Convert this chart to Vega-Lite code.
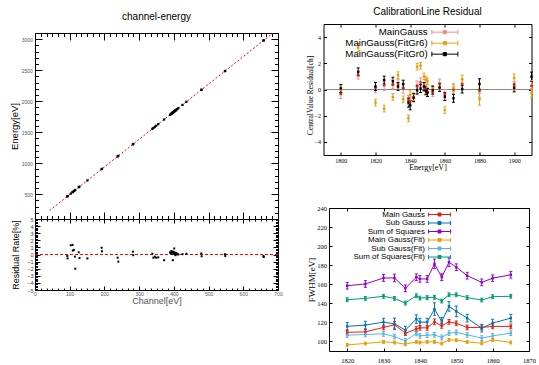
{
"$schema": "https://vega.github.io/schema/vega-lite/v6.json",
"padding": {"left": 8, "top": 6, "right": 0, "bottom": 0},
"datasets": {
"fit": [{"ch": 42, "e": 237}, {"ch": 700, "e": 3165}],
"pts": [
{"ch":93,"e":465,"r":-0.2},{"ch":94,"e":470,"r":-0.55},{"ch":103,"e":510,"r":1.3},{"ch":108,"e":532,"r":1.35},{"ch":109,"e":537,"r":0.55},{"ch":112,"e":550,"r":0.65},{"ch":115,"e":563,"r":-0.3},{"ch":116,"e":568,"r":-2.0},{"ch":126,"e":612,"r":0.3},{"ch":128,"e":621,"r":-0.5},{"ch":151,"e":722,"r":-0.55},{"ch":192,"e":904,"r":0.95},{"ch":193,"e":909,"r":0.45},{"ch":238,"e":1109,"r":-0.45},{"ch":240,"e":1118,"r":-1.0},{"ch":282,"e":1305,"r":0.4},{"ch":283,"e":1309,"r":-0.1},{"ch":338,"e":1554,"r":0.1},{"ch":341,"e":1567,"r":-0.45},{"ch":345,"e":1585,"r":-0.3},{"ch":349,"e":1603,"r":-0.45},{"ch":355,"e":1630,"r":-0.4},{"ch":372,"e":1705,"r":-0.8},{"ch":389,"e":1781,"r":0.3},{"ch":391,"e":1790,"r":0.2},{"ch":393,"e":1799,"r":0.5},{"ch":394,"e":1803,"r":0.1},{"ch":395,"e":1808,"r":0.35},{"ch":396,"e":1812,"r":0.2},{"ch":397,"e":1817,"r":-0.8},{"ch":398,"e":1821,"r":0.4},{"ch":399,"e":1826,"r":0.1},{"ch":400,"e":1830,"r":0.25},{"ch":401,"e":1835,"r":0.85},{"ch":402,"e":1839,"r":0.3},{"ch":403,"e":1844,"r":0.0},{"ch":404,"e":1848,"r":0.15},{"ch":405,"e":1853,"r":-0.1},{"ch":406,"e":1857,"r":0.2},{"ch":408,"e":1866,"r":0.05},{"ch":410,"e":1875,"r":0.1},{"ch":413,"e":1888,"r":0.0},{"ch":425,"e":1941,"r":0.05},{"ch":436,"e":1990,"r":0.1},{"ch":479,"e":2182,"r":0.15},{"ch":480,"e":2186,"r":-0.25},{"ch":547,"e":2484,"r":0.05},{"ch":548,"e":2489,"r":-0.2},{"ch":658,"e":2978,"r":-0.2},{"ch":659,"e":2983,"r":-0.35}
],
"res": [
{"s":"MainGauss","x":1800,"v":-0.34,"lo":-0.69,"hi":0.01},{"s":"MainGauss(FitGr6)","x":1800,"v":-0.03,"lo":-0.33,"hi":0.27},{"s":"MainGauss(FitGr0)","x":1800,"v":0.08,"lo":-0.22,"hi":0.38},
{"s":"MainGauss","x":1810,"v":1.1,"lo":0.8,"hi":1.4},{"s":"MainGauss(FitGr6)","x":1810,"v":3.2,"lo":2.9,"hi":3.5},{"s":"MainGauss(FitGr0)","x":1810,"v":1.35,"lo":1.05,"hi":1.65},
{"s":"MainGauss","x":1820,"v":0.15,"lo":-0.25,"hi":0.55},{"s":"MainGauss(FitGr6)","x":1820,"v":-1.0,"lo":-1.25,"hi":-0.75},{"s":"MainGauss(FitGr0)","x":1820,"v":0.23,"lo":-0.07,"hi":0.53},
{"s":"MainGauss","x":1825,"v":0.33,"lo":-0.07,"hi":0.73},{"s":"MainGauss(FitGr6)","x":1825,"v":-1.46,"lo":-1.71,"hi":-1.21},{"s":"MainGauss(FitGr0)","x":1825,"v":0.72,"lo":0.42,"hi":1.02},
{"s":"MainGauss","x":1830,"v":0.41,"lo":0.06,"hi":0.76},{"s":"MainGauss(FitGr6)","x":1830,"v":-0.57,"lo":-0.82,"hi":-0.32},{"s":"MainGauss(FitGr0)","x":1830,"v":0.64,"lo":0.34,"hi":0.94},
{"s":"MainGauss","x":1833,"v":0.4,"lo":0.05,"hi":0.75},{"s":"MainGauss(FitGr6)","x":1833,"v":1.1,"lo":0.85,"hi":1.35},{"s":"MainGauss(FitGr0)","x":1833,"v":0.23,"lo":-0.07,"hi":0.53},
{"s":"MainGauss","x":1836,"v":0.07,"lo":-0.28,"hi":0.42},{"s":"MainGauss(FitGr6)","x":1836,"v":-0.75,"lo":-1.0,"hi":-0.5},{"s":"MainGauss(FitGr0)","x":1836,"v":0.41,"lo":0.11,"hi":0.71},
{"s":"MainGauss","x":1839,"v":-0.8,"lo":-1.15,"hi":-0.45},{"s":"MainGauss(FitGr6)","x":1839,"v":-2.2,"lo":-2.45,"hi":-1.95},{"s":"MainGauss(FitGr0)","x":1839,"v":-1.0,"lo":-1.35,"hi":-0.65},
{"s":"MainGauss","x":1840,"v":-0.9,"lo":-1.25,"hi":-0.55},{"s":"MainGauss(FitGr6)","x":1840,"v":-0.4,"lo":-0.7,"hi":-0.1},{"s":"MainGauss(FitGr0)","x":1840,"v":-1.2,"lo":-1.55,"hi":-0.85},
{"s":"MainGauss","x":1842,"v":-0.6,"lo":-0.95,"hi":-0.25},{"s":"MainGauss(FitGr6)","x":1842,"v":-0.6,"lo":-0.85,"hi":-0.35},{"s":"MainGauss(FitGr0)","x":1842,"v":-0.62,"lo":-0.92,"hi":-0.32},
{"s":"MainGauss","x":1844,"v":0.3,"lo":-0.05,"hi":0.65},{"s":"MainGauss(FitGr6)","x":1844,"v":1.74,"lo":1.49,"hi":1.99},{"s":"MainGauss(FitGr0)","x":1844,"v":-0.05,"lo":-0.35,"hi":0.25},
{"s":"MainGauss","x":1846,"v":0.54,"lo":0.19,"hi":0.89},{"s":"MainGauss(FitGr6)","x":1846,"v":1.82,"lo":1.57,"hi":2.07},{"s":"MainGauss(FitGr0)","x":1846,"v":0.07,"lo":-0.23,"hi":0.37},
{"s":"MainGauss","x":1848,"v":0.2,"lo":-0.15,"hi":0.55},{"s":"MainGauss(FitGr6)","x":1848,"v":1.0,"lo":0.75,"hi":1.25},{"s":"MainGauss(FitGr0)","x":1848,"v":0.23,"lo":-0.07,"hi":0.53},
{"s":"MainGauss","x":1849,"v":0.0,"lo":-0.35,"hi":0.35},{"s":"MainGauss(FitGr6)","x":1849,"v":0.75,"lo":0.5,"hi":1.0},{"s":"MainGauss(FitGr0)","x":1849,"v":-0.1,"lo":-0.4,"hi":0.2},
{"s":"MainGauss","x":1850,"v":-0.2,"lo":-0.55,"hi":0.15},{"s":"MainGauss(FitGr6)","x":1850,"v":0.62,"lo":0.37,"hi":0.87},{"s":"MainGauss(FitGr0)","x":1850,"v":-0.23,"lo":-0.53,"hi":0.07},
{"s":"MainGauss","x":1853,"v":-0.2,"lo":-0.55,"hi":0.15},{"s":"MainGauss(FitGr6)","x":1853,"v":0.05,"lo":-0.2,"hi":0.3},{"s":"MainGauss(FitGr0)","x":1853,"v":-0.05,"lo":-0.35,"hi":0.25},
{"s":"MainGauss","x":1857,"v":0.45,"lo":0.1,"hi":0.8},{"s":"MainGauss(FitGr6)","x":1857,"v":0.2,"lo":-0.05,"hi":0.45},{"s":"MainGauss(FitGr0)","x":1857,"v":0.15,"lo":-0.15,"hi":0.45},
{"s":"MainGauss","x":1860,"v":-0.35,"lo":-0.7,"hi":0.0},{"s":"MainGauss(FitGr6)","x":1860,"v":-1.57,"lo":-1.82,"hi":-1.32},{"s":"MainGauss(FitGr0)","x":1860,"v":-0.54,"lo":-0.84,"hi":-0.24},
{"s":"MainGauss","x":1865,"v":0.0,"lo":-0.35,"hi":0.35},{"s":"MainGauss(FitGr6)","x":1865,"v":0.15,"lo":-0.15,"hi":0.45},{"s":"MainGauss(FitGr0)","x":1865,"v":-0.67,"lo":-0.97,"hi":-0.37},
{"s":"MainGauss","x":1870,"v":0.4,"lo":0.05,"hi":0.75},{"s":"MainGauss(FitGr6)","x":1870,"v":0.8,"lo":0.5,"hi":1.1},{"s":"MainGauss(FitGr0)","x":1870,"v":0.03,"lo":-0.27,"hi":0.33},
{"s":"MainGauss","x":1880,"v":-0.1,"lo":-0.6,"hi":0.4},{"s":"MainGauss(FitGr6)","x":1880,"v":-0.75,"lo":-1.2,"hi":-0.3},{"s":"MainGauss(FitGr0)","x":1880,"v":0.42,"lo":0.02,"hi":0.82},
{"s":"MainGauss","x":1900,"v":0.28,"lo":-0.02,"hi":0.58},{"s":"MainGauss(FitGr6)","x":1900,"v":0.88,"lo":0.58,"hi":1.18},{"s":"MainGauss(FitGr0)","x":1900,"v":0.12,"lo":-0.18,"hi":0.42},
{"s":"MainGauss","x":1910,"v":0.28,"lo":-0.12,"hi":0.68},{"s":"MainGauss(FitGr6)","x":1910,"v":-0.28,"lo":-0.63,"hi":0.07},{"s":"MainGauss(FitGr0)","x":1910,"v":0.98,"lo":0.63,"hi":1.33}
],
"fw": [
{"s":"Main Gauss","x":1820,"v":109.5,"lo":107,"hi":112},{"s":"Main Gauss","x":1825,"v":110.1,"lo":107.6,"hi":112.6},{"s":"Main Gauss","x":1830,"v":114.7,"lo":112.2,"hi":117.2},{"s":"Main Gauss","x":1833,"v":117.5,"lo":114,"hi":121},{"s":"Main Gauss","x":1836,"v":108.7,"lo":106.2,"hi":111.2},{"s":"Main Gauss","x":1839,"v":113,"lo":110.5,"hi":115.5},{"s":"Main Gauss","x":1840,"v":114.3,"lo":111.8,"hi":116.8},{"s":"Main Gauss","x":1842,"v":114.3,"lo":111.8,"hi":116.8},{"s":"Main Gauss","x":1844,"v":120.6,"lo":117.6,"hi":123.6},{"s":"Main Gauss","x":1846,"v":116.4,"lo":113.9,"hi":118.9},{"s":"Main Gauss","x":1848,"v":120.6,"lo":118.1,"hi":123.1},{"s":"Main Gauss","x":1850,"v":119,"lo":116.5,"hi":121.5},{"s":"Main Gauss","x":1853,"v":114.7,"lo":112.2,"hi":117.2},{"s":"Main Gauss","x":1857,"v":114.7,"lo":112.2,"hi":117.2},{"s":"Main Gauss","x":1860,"v":115.8,"lo":113.3,"hi":118.3},{"s":"Main Gauss","x":1865,"v":115.8,"lo":113.3,"hi":118.3},
{"s":"Sub Gauss","x":1820,"v":115.8,"lo":111.8,"hi":119.8},{"s":"Sub Gauss","x":1825,"v":117.2,"lo":113.2,"hi":121.2},{"s":"Sub Gauss","x":1830,"v":120.3,"lo":116.3,"hi":124.3},{"s":"Sub Gauss","x":1833,"v":118.5,"lo":112.5,"hi":124.5},{"s":"Sub Gauss","x":1836,"v":111.9,"lo":107.9,"hi":115.9},{"s":"Sub Gauss","x":1839,"v":123.5,"lo":119,"hi":128},{"s":"Sub Gauss","x":1840,"v":120.3,"lo":116.3,"hi":124.3},{"s":"Sub Gauss","x":1842,"v":120.3,"lo":116.3,"hi":124.3},{"s":"Sub Gauss","x":1844,"v":134,"lo":127.5,"hi":140.5},{"s":"Sub Gauss","x":1846,"v":121,"lo":117,"hi":125},{"s":"Sub Gauss","x":1848,"v":136.8,"lo":131.8,"hi":141.8},{"s":"Sub Gauss","x":1850,"v":131.6,"lo":126.1,"hi":137.1},{"s":"Sub Gauss","x":1853,"v":124.5,"lo":120.5,"hi":128.5},{"s":"Sub Gauss","x":1857,"v":114,"lo":110,"hi":118},{"s":"Sub Gauss","x":1860,"v":119.3,"lo":115.3,"hi":123.3},{"s":"Sub Gauss","x":1865,"v":124.5,"lo":120.5,"hi":128.5},
{"s":"Sum of Squares","x":1820,"v":158.5,"lo":155,"hi":162},{"s":"Sum of Squares","x":1825,"v":160.3,"lo":156.8,"hi":163.8},{"s":"Sum of Squares","x":1830,"v":166.6,"lo":163.1,"hi":170.1},{"s":"Sum of Squares","x":1833,"v":166.6,"lo":162.6,"hi":170.6},{"s":"Sum of Squares","x":1836,"v":155.8,"lo":152.3,"hi":159.3},{"s":"Sum of Squares","x":1839,"v":167.4,"lo":163.9,"hi":170.9},{"s":"Sum of Squares","x":1840,"v":165.6,"lo":162.1,"hi":169.1},{"s":"Sum of Squares","x":1842,"v":165.6,"lo":162.1,"hi":169.1},{"s":"Sum of Squares","x":1844,"v":181.4,"lo":176.4,"hi":186.4},{"s":"Sum of Squares","x":1846,"v":167.5,"lo":164,"hi":171},{"s":"Sum of Squares","x":1848,"v":183.2,"lo":178.7,"hi":187.7},{"s":"Sum of Squares","x":1850,"v":177.9,"lo":174.4,"hi":181.4},{"s":"Sum of Squares","x":1853,"v":169,"lo":165.5,"hi":172.5},{"s":"Sum of Squares","x":1857,"v":162,"lo":158.5,"hi":165.5},{"s":"Sum of Squares","x":1860,"v":166.3,"lo":162.8,"hi":169.8},{"s":"Sum of Squares","x":1865,"v":170,"lo":166.5,"hi":173.5},
{"s":"Main Gauss(Fit)","x":1820,"v":96.4,"lo":94.9,"hi":97.9},{"s":"Main Gauss(Fit)","x":1825,"v":97.9,"lo":96.4,"hi":99.4},{"s":"Main Gauss(Fit)","x":1830,"v":99.6,"lo":98.1,"hi":101.1},{"s":"Main Gauss(Fit)","x":1833,"v":98.9,"lo":97.4,"hi":100.4},{"s":"Main Gauss(Fit)","x":1836,"v":97.1,"lo":95.6,"hi":98.6},{"s":"Main Gauss(Fit)","x":1839,"v":99.6,"lo":98.1,"hi":101.1},{"s":"Main Gauss(Fit)","x":1840,"v":98.9,"lo":97.4,"hi":100.4},{"s":"Main Gauss(Fit)","x":1842,"v":99.6,"lo":98.1,"hi":101.1},{"s":"Main Gauss(Fit)","x":1844,"v":99.6,"lo":98.1,"hi":101.1},{"s":"Main Gauss(Fit)","x":1846,"v":97.9,"lo":96.4,"hi":99.4},{"s":"Main Gauss(Fit)","x":1848,"v":101.7,"lo":100.2,"hi":103.2},{"s":"Main Gauss(Fit)","x":1850,"v":101.3,"lo":99.8,"hi":102.8},{"s":"Main Gauss(Fit)","x":1853,"v":99.6,"lo":98.1,"hi":101.1},{"s":"Main Gauss(Fit)","x":1857,"v":98.2,"lo":96.7,"hi":99.7},{"s":"Main Gauss(Fit)","x":1860,"v":101.7,"lo":100.2,"hi":103.2},{"s":"Main Gauss(Fit)","x":1865,"v":98.9,"lo":97.4,"hi":100.4},
{"s":"Sub Gauss(Fit)","x":1820,"v":106.6,"lo":104.1,"hi":109.1},{"s":"Sub Gauss(Fit)","x":1825,"v":107.3,"lo":104.8,"hi":109.8},{"s":"Sub Gauss(Fit)","x":1830,"v":108,"lo":105.5,"hi":110.5},{"s":"Sub Gauss(Fit)","x":1833,"v":105.2,"lo":102.7,"hi":107.7},{"s":"Sub Gauss(Fit)","x":1836,"v":100.6,"lo":98.1,"hi":103.1},{"s":"Sub Gauss(Fit)","x":1839,"v":108.5,"lo":106,"hi":111},{"s":"Sub Gauss(Fit)","x":1840,"v":105.9,"lo":103.4,"hi":108.4},{"s":"Sub Gauss(Fit)","x":1842,"v":106.6,"lo":104.1,"hi":109.1},{"s":"Sub Gauss(Fit)","x":1844,"v":107,"lo":104.5,"hi":109.5},{"s":"Sub Gauss(Fit)","x":1846,"v":104.2,"lo":101.7,"hi":106.7},{"s":"Sub Gauss(Fit)","x":1848,"v":108.7,"lo":106.2,"hi":111.2},{"s":"Sub Gauss(Fit)","x":1850,"v":109.5,"lo":107,"hi":112},{"s":"Sub Gauss(Fit)","x":1853,"v":107,"lo":104.5,"hi":109.5},{"s":"Sub Gauss(Fit)","x":1857,"v":103.5,"lo":101,"hi":106},{"s":"Sub Gauss(Fit)","x":1860,"v":105.9,"lo":103.4,"hi":108.4},{"s":"Sub Gauss(Fit)","x":1865,"v":108.7,"lo":106.2,"hi":111.2},
{"s":"Sum of Squares(Fit)","x":1820,"v":143.8,"lo":141.8,"hi":145.8},{"s":"Sum of Squares(Fit)","x":1825,"v":145.2,"lo":143.2,"hi":147.2},{"s":"Sum of Squares(Fit)","x":1830,"v":147.4,"lo":145.4,"hi":149.4},{"s":"Sum of Squares(Fit)","x":1833,"v":145.2,"lo":143.2,"hi":147.2},{"s":"Sum of Squares(Fit)","x":1836,"v":140.3,"lo":138.3,"hi":142.3},{"s":"Sum of Squares(Fit)","x":1839,"v":148,"lo":146,"hi":150},{"s":"Sum of Squares(Fit)","x":1840,"v":145.5,"lo":143.5,"hi":147.5},{"s":"Sum of Squares(Fit)","x":1842,"v":146,"lo":144,"hi":148},{"s":"Sum of Squares(Fit)","x":1844,"v":146.3,"lo":144.3,"hi":148.3},{"s":"Sum of Squares(Fit)","x":1846,"v":142.4,"lo":140.4,"hi":144.4},{"s":"Sum of Squares(Fit)","x":1848,"v":149,"lo":147,"hi":151},{"s":"Sum of Squares(Fit)","x":1850,"v":149,"lo":147,"hi":151},{"s":"Sum of Squares(Fit)","x":1853,"v":146,"lo":144,"hi":148},{"s":"Sum of Squares(Fit)","x":1857,"v":143.5,"lo":141.5,"hi":145.5},{"s":"Sum of Squares(Fit)","x":1860,"v":147,"lo":145,"hi":149},{"s":"Sum of Squares(Fit)","x":1865,"v":147.4,"lo":145.4,"hi":149.4}
]
},
"spacing": 22.5,
"resolve": {"scale": {"color": "independent", "fill": "independent"}, "legend": {"color": "independent", "fill": "independent"}},
"hconcat": [
{
"bounds": "flush",
"spacing": 0,
"vconcat": [
{"width": 243, "height": 9, "data": {"values": []}, "mark": "point", "view": {"stroke": null}},
{
"width": 243, "height": 186,
"title": {"text": "channel-energy", "offset": 9},
"layer": [
{"data": {"name": "fit"},
 "mark": {"type": "line", "color": "#ff0000", "strokeDash": [2, 2], "strokeWidth": 1, "clip": true},
 "encoding": {
  "x": {"field": "ch", "type": "quantitative", "scale": {"domain": [0, 700], "nice": false, "zero": false},
        "axis": {"orient": "bottom", "values": [0,16.667,33.333,50,66.667,83.333,100,116.667,133.333,150,166.667,183.333,200,216.667,233.333,250,266.667,283.333,300,316.667,333.333,350,366.667,383.333,400,416.667,433.333,450,466.667,483.333,500,516.667,533.333,550,566.667,583.333,600,616.667,633.333,650,666.667,683.333,700], "labels": false, "title": null,
                 "tickSize": {"condition": {"test": "datum.value % 100 === 0", "value": -7}, "value": -3.5}}},
  "y": {"field": "e", "type": "quantitative", "scale": {"domain": [100, 3100], "nice": false, "zero": false},
        "axis": {"orient": "left", "values": [100,200,300,400,500,600,700,800,900,1000,1100,1200,1300,1400,1500,1600,1700,1800,1900,2000,2100,2200,2300,2400,2500,2600,2700,2800,2900,3000,3100], "format": "d",
                 "labelExpr": "datum.value % 500 === 0 ? datum.label : ''", "labelFontSize": 5, "labelColor": "#505060", "labelPadding": 9.6,
                 "tickSize": {"condition": {"test": "datum.value % 500 === 0", "value": -7}, "value": -3.5},
                 "title": "Energy[eV]", "titleFontSize": 9.5, "titleX": -21, "titleBaseline": "middle"}}
 }},
{"data": {"name": "pts"},
 "mark": {"type": "square", "size": 5, "color": "black", "opacity": 1},
 "encoding": {
  "x": {"field": "ch", "type": "quantitative", "scale": {"domain": [0, 700], "nice": false, "zero": false},
        "axis": {"orient": "top", "values": [0,16.667,33.333,50,66.667,83.333,100,116.667,133.333,150,166.667,183.333,200,216.667,233.333,250,266.667,283.333,300,316.667,333.333,350,366.667,383.333,400,416.667,433.333,450,466.667,483.333,500,516.667,533.333,550,566.667,583.333,600,616.667,633.333,650,666.667,683.333,700], "labels": false, "title": null,
                 "tickSize": {"condition": {"test": "datum.value % 100 === 0", "value": -7}, "value": -3.5}}},
  "y": {"field": "e", "type": "quantitative", "scale": {"domain": [100, 3100], "nice": false, "zero": false},
        "axis": {"orient": "right", "values": [100,200,300,400,500,600,700,800,900,1000,1100,1200,1300,1400,1500,1600,1700,1800,1900,2000,2100,2200,2300,2400,2500,2600,2700,2800,2900,3000,3100], "labels": false, "title": null,
                 "tickSize": {"condition": {"test": "datum.value % 500 === 0", "value": -7}, "value": -3.5}}}
 }}
],
"resolve": {"axis": {"x": "independent", "y": "independent"}}
},
{
"width": 243, "height": 71,
"layer": [
{"data": {"values": [{}]},
 "mark": {"type": "rule", "color": "#ff0000", "strokeDash": [3, 2], "strokeWidth": 1},
 "encoding": {"y": {"datum": 0, "type": "quantitative", "scale": {"domain": [-5, 5], "nice": false, "zero": false}, "axis": null}}},
{"data": {"name": "pts"},
 "mark": {"type": "square", "size": 4, "color": "black", "opacity": 1},
 "encoding": {
  "x": {"field": "ch", "type": "quantitative", "scale": {"domain": [0, 700], "nice": false, "zero": false},
        "axis": {"orient": "bottom", "values": [0,16.667,33.333,50,66.667,83.333,100,116.667,133.333,150,166.667,183.333,200,216.667,233.333,250,266.667,283.333,300,316.667,333.333,350,366.667,383.333,400,416.667,433.333,450,466.667,483.333,500,516.667,533.333,550,566.667,583.333,600,616.667,633.333,650,666.667,683.333,700], "format": "d",
                 "labelExpr": "datum.value % 100 === 0 ? datum.label : ''", "labelFontSize": 5, "labelColor": "#505060", "labelPadding": 5,
                 "tickSize": {"condition": {"test": "datum.value % 100 === 0", "value": -4}, "value": -2},
                 "title": "Channel[eV]", "titleFontSize": 9, "titleColor": "#555555", "titleY": 10, "titleBaseline": "middle"}},
  "y": {"field": "r", "type": "quantitative", "scale": {"domain": [-5, 5], "nice": false, "zero": false},
        "axis": {"orient": "left", "values": [-5,-4.8,-4.6,-4.4,-4.2,-4,-3.8,-3.6,-3.4,-3.2,-3,-2.8,-2.6,-2.4,-2.2,-2,-1.8,-1.6,-1.4,-1.2,-1,-0.8,-0.6,-0.4,-0.2,0,0.2,0.4,0.6,0.8,1,1.2,1.4,1.6,1.8,2,2.2,2.4,2.6,2.8,3,3.2,3.4,3.6,3.8,4,4.2,4.4,4.6,4.8,5],
                 "labelExpr": "abs(datum.value - round(datum.value)) < 0.01 ? format(datum.value, 'd') : ''",
                 "labelFontSize": 5.5, "labelColor": "#404050", "labelPadding": 7,
                 "tickSize": {"condition": {"test": "abs(datum.value - round(datum.value)) < 0.01", "value": -5}, "value": -2.5},
                 "title": "Residual Rate[%]", "titleFontSize": 9, "titleX": -19.3, "titleBaseline": "middle"}}
 }},
{"data": {"name": "pts"},
 "mark": {"type": "square", "size": 4, "opacity": 0},
 "encoding": {
  "x": {"field": "ch", "type": "quantitative", "scale": {"domain": [0, 700], "nice": false, "zero": false},
        "axis": {"orient": "top", "values": [0,16.667,33.333,50,66.667,83.333,100,116.667,133.333,150,166.667,183.333,200,216.667,233.333,250,266.667,283.333,300,316.667,333.333,350,366.667,383.333,400,416.667,433.333,450,466.667,483.333,500,516.667,533.333,550,566.667,583.333,600,616.667,633.333,650,666.667,683.333,700], "labels": false, "title": null,
                 "tickSize": {"condition": {"test": "datum.value % 100 === 0", "value": -4}, "value": -2}}},
  "y": {"field": "r", "type": "quantitative", "scale": {"domain": [-5, 5], "nice": false, "zero": false},
        "axis": {"orient": "right", "values": [-5,-4.8,-4.6,-4.4,-4.2,-4,-3.8,-3.6,-3.4,-3.2,-3,-2.8,-2.6,-2.4,-2.2,-2,-1.8,-1.6,-1.4,-1.2,-1,-0.8,-0.6,-0.4,-0.2,0,0.2,0.4,0.6,0.8,1,1.2,1.4,1.6,1.8,2,2.2,2.4,2.6,2.8,3,3.2,3.4,3.6,3.8,4,4.2,4.4,4.6,4.8,5], "labels": false, "title": null,
                 "tickSize": {"condition": {"test": "abs(datum.value - round(datum.value)) < 0.01", "value": -5}, "value": -2.5}}}
 }}
],
"resolve": {"axis": {"x": "independent", "y": "independent"}}
}
]
},
{
"bounds": "flush",
"spacing": 53,
"resolve": {"scale": {"color": "independent", "fill": "independent"}, "legend": {"color": "independent", "fill": "independent"}},
"vconcat": [
{
"width": 208, "height": 131,
"title": {"text": "CalibrationLine Residual", "offset": 7},
"layer": [
{"data": {"values": [{}]},
 "mark": {"type": "rule", "color": "#888888", "strokeWidth": 1},
 "encoding": {"y": {"datum": 0, "type": "quantitative", "scale": {"domain": [-5, 5], "nice": false, "zero": false}, "axis": null}}},
{"data": {"name": "res"},
 "mark": {"type": "rule", "strokeWidth": 1, "opacity": 1},
 "encoding": {
  "x": {"field": "x", "type": "quantitative", "scale": {"domain": [1790, 1910], "nice": false, "zero": false},
        "axis": {"orient": "bottom", "values": [1800,1820,1840,1860,1880,1900], "format": "d", "tickSize": -3, "labelPadding": 5.5,
                 "labelFont": "Liberation Serif", "labelFontSize": 6, "title": "Energy[eV]", "titleFont": "Liberation Serif", "titleFontSize": 8, "titleY": 12.5, "titleBaseline": "middle"}},
  "y": {"field": "lo", "type": "quantitative", "scale": {"domain": [-5, 5], "nice": false, "zero": false},
        "axis": {"orient": "left", "values": [-4,-2,0,2,4], "format": "d", "tickSize": -3, "labelPadding": 6,
                 "labelFont": "Liberation Serif", "labelFontSize": 6, "title": "CentralValue Residual[ch]", "titleFont": "Liberation Serif", "titleFontSize": 7.5, "titleX": -13.5, "titleY": 71, "titleBaseline": "middle"}},
  "y2": {"field": "hi"},
  "color": {"field": "s", "type": "nominal", "scale": {"domain": ["MainGauss","MainGauss(FitGr6)","MainGauss(FitGr0)"], "range": ["#ef8f8a","#e8a317","#000000"]},
            "legend": {"title": null, "orient": "none", "legendX": 116.5, "legendY": 3.3, "symbolType": "M-3.25,0H3.25M-3.25,-0.6V0.6M3.25,-0.6V0.6M-0.4,-0.4H0.4V0.4H-0.4Z", "symbolSize": 64, "symbolStrokeWidth": 1, "symbolOpacity": 1, "labelAlign": "right", "labelOffset": -22, "labelFontSize": 9.7, "labelColor": "black", "rowPadding": 0, "padding": 0, "labelLimit": 300}}
 }},
{"data": {"name": "res"},
 "mark": {"type": "tick", "orient": "horizontal", "size": 3, "thickness": 1, "opacity": 1},
 "encoding": {
  "x": {"field": "x", "type": "quantitative", "scale": {"domain": [1790, 1910], "nice": false, "zero": false}, "axis": null},
  "y": {"field": "lo", "type": "quantitative", "scale": {"domain": [-5, 5], "nice": false, "zero": false}, "axis": null},
  "color": {"field": "s", "type": "nominal", "scale": {"domain": ["MainGauss","MainGauss(FitGr6)","MainGauss(FitGr0)"], "range": ["#ef8f8a","#e8a317","#000000"]}}
 }},
{"data": {"name": "res"},
 "mark": {"type": "tick", "orient": "horizontal", "size": 3, "thickness": 1, "opacity": 1},
 "encoding": {
  "x": {"field": "x", "type": "quantitative", "scale": {"domain": [1790, 1910], "nice": false, "zero": false}, "axis": null},
  "y": {"field": "hi", "type": "quantitative", "scale": {"domain": [-5, 5], "nice": false, "zero": false}, "axis": null},
  "color": {"field": "s", "type": "nominal", "scale": {"domain": ["MainGauss","MainGauss(FitGr6)","MainGauss(FitGr0)"], "range": ["#ef8f8a","#e8a317","#000000"]}}
 }},
{"data": {"name": "res"},
 "mark": {"type": "square", "size": 6, "opacity": 1, "filled": true},
 "encoding": {
  "x": {"field": "x", "type": "quantitative", "scale": {"domain": [1790, 1910], "nice": false, "zero": false},
        "axis": {"orient": "top", "values": [1800,1820,1840,1860,1880,1900], "labels": false, "title": null, "tickSize": -3}},
  "y": {"field": "v", "type": "quantitative", "scale": {"domain": [-5, 5], "nice": false, "zero": false},
        "axis": {"orient": "right", "values": [-4,-2,0,2,4], "labels": false, "title": null, "tickSize": -3}},
  "fill": {"field": "s", "type": "nominal", "scale": {"domain": ["MainGauss","MainGauss(FitGr6)","MainGauss(FitGr0)"], "range": ["#e51e10","#e69f00","#000000"]}, "legend": null}
 }}
],
"resolve": {"axis": {"x": "independent", "y": "independent"}}
},
{
"bounds": "flush",
"spacing": 4.5,
"resolve": {"scale": {"color": "independent", "fill": "independent"}, "legend": {"color": "independent", "fill": "independent"}},
"hconcat": [
{"width": 1, "height": 143, "data": {"values": []}, "mark": "point", "view": {"stroke": null}},
{
"width": 200, "height": 143,
"layer": [
{"data": {"name": "fw"},
 "mark": {"type": "line", "strokeWidth": 1, "opacity": 1},
 "encoding": {
  "x": {"field": "x", "type": "quantitative", "scale": {"domain": [1815, 1870], "nice": false, "zero": false},
        "axis": {"orient": "bottom", "values": [1820,1830,1840,1850,1860,1870], "format": "d", "tickSize": -3, "labelPadding": 9,
                 "labelFont": "Liberation Serif", "labelFontSize": 6.5, "title": "Energy[ch]", "titleFont": "Liberation Serif", "titleFontSize": 9, "titleY": 18, "titleBaseline": "middle"}},
  "y": {"field": "v", "type": "quantitative", "scale": {"domain": [90, 240], "nice": false, "zero": false},
        "axis": {"orient": "left", "values": [100,120,140,160,180,200,220,240], "format": "d", "tickSize": -3, "labelPadding": 5.5,
                 "labelFont": "Liberation Serif", "labelFontSize": 6.5, "title": "FWHM[eV]", "titleFont": "Liberation Serif", "titleFontSize": 9, "titleX": -18, "titleBaseline": "middle"}},
  "color": {"field": "s", "type": "nominal", "scale": {"domain": ["Main Gauss","Sub Gauss","Sum of Squares","Main Gauss(Fit)","Sub Gauss(Fit)","Sum of Squares(Fit)"], "range": ["#e51e10","#0072b2","#9400d3","#e69f00","#56b4e9","#009e73"]},
            "legend": {"title": null, "orient": "none", "legendX": 106.5, "legendY": 2.5, "symbolType": "M-3.14,0H3.14M-3.14,-0.57V0.57M3.14,-0.57V0.57M-0.43,-0.43H0.43V0.43H-0.43Z", "symbolSize": 49, "symbolStrokeWidth": 1, "symbolOpacity": 1, "labelAlign": "right", "labelOffset": -18.5, "labelFontSize": 8, "labelColor": "black", "rowPadding": 0.5, "padding": 0, "labelLimit": 300}}
 }},
{"data": {"name": "fw"},
 "mark": {"type": "rule", "strokeWidth": 1, "opacity": 1},
 "encoding": {
  "x": {"field": "x", "type": "quantitative", "scale": {"domain": [1815, 1870], "nice": false, "zero": false}, "axis": null},
  "y": {"field": "lo", "type": "quantitative", "scale": {"domain": [90, 240], "nice": false, "zero": false}, "axis": null},
  "y2": {"field": "hi"},
  "color": {"field": "s", "type": "nominal", "scale": {"domain": ["Main Gauss","Sub Gauss","Sum of Squares","Main Gauss(Fit)","Sub Gauss(Fit)","Sum of Squares(Fit)"], "range": ["#e51e10","#0072b2","#9400d3","#e69f00","#56b4e9","#009e73"]}}
 }},
{"data": {"name": "fw"},
 "mark": {"type": "tick", "orient": "horizontal", "size": 3, "thickness": 1, "opacity": 1},
 "encoding": {
  "x": {"field": "x", "type": "quantitative", "scale": {"domain": [1815, 1870], "nice": false, "zero": false}, "axis": null},
  "y": {"field": "lo", "type": "quantitative", "scale": {"domain": [90, 240], "nice": false, "zero": false}, "axis": null},
  "color": {"field": "s", "type": "nominal", "scale": {"domain": ["Main Gauss","Sub Gauss","Sum of Squares","Main Gauss(Fit)","Sub Gauss(Fit)","Sum of Squares(Fit)"], "range": ["#e51e10","#0072b2","#9400d3","#e69f00","#56b4e9","#009e73"]}}
 }},
{"data": {"name": "fw"},
 "mark": {"type": "tick", "orient": "horizontal", "size": 3, "thickness": 1, "opacity": 1},
 "encoding": {
  "x": {"field": "x", "type": "quantitative", "scale": {"domain": [1815, 1870], "nice": false, "zero": false}, "axis": null},
  "y": {"field": "hi", "type": "quantitative", "scale": {"domain": [90, 240], "nice": false, "zero": false}, "axis": null},
  "color": {"field": "s", "type": "nominal", "scale": {"domain": ["Main Gauss","Sub Gauss","Sum of Squares","Main Gauss(Fit)","Sub Gauss(Fit)","Sum of Squares(Fit)"], "range": ["#e51e10","#0072b2","#9400d3","#e69f00","#56b4e9","#009e73"]}}
 }},
{"data": {"name": "fw"},
 "mark": {"type": "square", "size": 6, "opacity": 1, "filled": true},
 "encoding": {
  "x": {"field": "x", "type": "quantitative", "scale": {"domain": [1815, 1870], "nice": false, "zero": false},
        "axis": {"orient": "top", "values": [1820,1830,1840,1850,1860,1870], "labels": false, "title": null, "tickSize": -3}},
  "y": {"field": "v", "type": "quantitative", "scale": {"domain": [90, 240], "nice": false, "zero": false},
        "axis": {"orient": "right", "values": [100,120,140,160,180,200,220,240], "labels": false, "title": null, "tickSize": -3}},
  "color": {"field": "s", "type": "nominal", "scale": {"domain": ["Main Gauss","Sub Gauss","Sum of Squares","Main Gauss(Fit)","Sub Gauss(Fit)","Sum of Squares(Fit)"], "range": ["#e51e10","#0072b2","#9400d3","#e69f00","#56b4e9","#009e73"]}}
 }}
],
"resolve": {"axis": {"x": "independent", "y": "independent"}}
}
]
}
]
}
],
"config": {
 "font": "Liberation Sans",
 "view": {"stroke": "black", "strokeWidth": 1},
 "axis": {"grid": false, "domain": false, "labelFlush": false, "labelOverlap": false, "titleFontWeight": "normal", "tickColor": "black", "tickWidth": 1, "labelColor": "black", "titleColor": "black"},
 "title": {"fontWeight": "normal", "fontSize": 10, "color": "black", "baseline": "alphabetic", "anchor": "middle"}
}
}
